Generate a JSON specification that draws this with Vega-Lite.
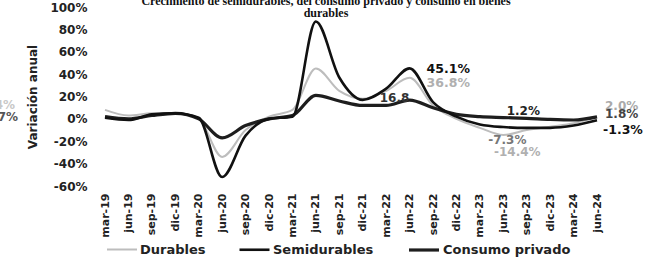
{
  "$schema": "https://vega.github.io/schema/vega-lite/v6.json",
  "width": 492,
  "height": 179,
  "autosize": "none",
  "padding": {"left": 105, "top": 7, "right": 53, "bottom": 75},
  "background": "white",
  "config": {"view": {"stroke": null}, "font": "DejaVu Sans"},
  "title": {
    "text": ["Crecimiento de semidurables, del consumo privado y consumo en bienes", "durables"],
    "font": "Liberation Serif",
    "fontSize": 12,
    "fontWeight": "bold",
    "lineHeight": 12,
    "color": "#111",
    "anchor": "middle",
    "dx": -25,
    "offset": -19
  },
  "datasets": {
    "series": [
      {"fecha": "mar-19", "serie": "Durables", "valor": 8},
      {"fecha": "jun-19", "serie": "Durables", "valor": 3},
      {"fecha": "sep-19", "serie": "Durables", "valor": 5},
      {"fecha": "dic-19", "serie": "Durables", "valor": 5},
      {"fecha": "mar-20", "serie": "Durables", "valor": 0},
      {"fecha": "jun-20", "serie": "Durables", "valor": -34},
      {"fecha": "sep-20", "serie": "Durables", "valor": -10},
      {"fecha": "dic-20", "serie": "Durables", "valor": 2},
      {"fecha": "mar-21", "serie": "Durables", "valor": 8},
      {"fecha": "jun-21", "serie": "Durables", "valor": 45},
      {"fecha": "sep-21", "serie": "Durables", "valor": 25},
      {"fecha": "dic-21", "serie": "Durables", "valor": 18},
      {"fecha": "mar-22", "serie": "Durables", "valor": 25},
      {"fecha": "jun-22", "serie": "Durables", "valor": 36.8},
      {"fecha": "sep-22", "serie": "Durables", "valor": 12},
      {"fecha": "dic-22", "serie": "Durables", "valor": 0},
      {"fecha": "mar-23", "serie": "Durables", "valor": -8},
      {"fecha": "jun-23", "serie": "Durables", "valor": -14.4},
      {"fecha": "sep-23", "serie": "Durables", "valor": -10},
      {"fecha": "dic-23", "serie": "Durables", "valor": -7},
      {"fecha": "mar-24", "serie": "Durables", "valor": -4},
      {"fecha": "jun-24", "serie": "Durables", "valor": 2.0},
      {"fecha": "mar-19", "serie": "Consumo privado", "valor": 2},
      {"fecha": "jun-19", "serie": "Consumo privado", "valor": 0},
      {"fecha": "sep-19", "serie": "Consumo privado", "valor": 3},
      {"fecha": "dic-19", "serie": "Consumo privado", "valor": 5},
      {"fecha": "mar-20", "serie": "Consumo privado", "valor": 0},
      {"fecha": "jun-20", "serie": "Consumo privado", "valor": -17},
      {"fecha": "sep-20", "serie": "Consumo privado", "valor": -6},
      {"fecha": "dic-20", "serie": "Consumo privado", "valor": 0},
      {"fecha": "mar-21", "serie": "Consumo privado", "valor": 3},
      {"fecha": "jun-21", "serie": "Consumo privado", "valor": 21},
      {"fecha": "sep-21", "serie": "Consumo privado", "valor": 16},
      {"fecha": "dic-21", "serie": "Consumo privado", "valor": 12},
      {"fecha": "mar-22", "serie": "Consumo privado", "valor": 12},
      {"fecha": "jun-22", "serie": "Consumo privado", "valor": 16.8},
      {"fecha": "sep-22", "serie": "Consumo privado", "valor": 10},
      {"fecha": "dic-22", "serie": "Consumo privado", "valor": 4},
      {"fecha": "mar-23", "serie": "Consumo privado", "valor": 2},
      {"fecha": "jun-23", "serie": "Consumo privado", "valor": 1.2},
      {"fecha": "sep-23", "serie": "Consumo privado", "valor": 0.5},
      {"fecha": "dic-23", "serie": "Consumo privado", "valor": -0.5},
      {"fecha": "mar-24", "serie": "Consumo privado", "valor": -1},
      {"fecha": "jun-24", "serie": "Consumo privado", "valor": 1.8},
      {"fecha": "mar-19", "serie": "Semidurables", "valor": 1},
      {"fecha": "jun-19", "serie": "Semidurables", "valor": -1},
      {"fecha": "sep-19", "serie": "Semidurables", "valor": 4},
      {"fecha": "dic-19", "serie": "Semidurables", "valor": 5},
      {"fecha": "mar-20", "serie": "Semidurables", "valor": 1},
      {"fecha": "jun-20", "serie": "Semidurables", "valor": -52},
      {"fecha": "sep-20", "serie": "Semidurables", "valor": -15},
      {"fecha": "dic-20", "serie": "Semidurables", "valor": 0},
      {"fecha": "mar-21", "serie": "Semidurables", "valor": 2},
      {"fecha": "jun-21", "serie": "Semidurables", "valor": 87},
      {"fecha": "sep-21", "serie": "Semidurables", "valor": 37},
      {"fecha": "dic-21", "serie": "Semidurables", "valor": 17},
      {"fecha": "mar-22", "serie": "Semidurables", "valor": 27},
      {"fecha": "jun-22", "serie": "Semidurables", "valor": 45.1},
      {"fecha": "sep-22", "serie": "Semidurables", "valor": 15},
      {"fecha": "dic-22", "serie": "Semidurables", "valor": 2},
      {"fecha": "mar-23", "serie": "Semidurables", "valor": -5},
      {"fecha": "jun-23", "serie": "Semidurables", "valor": -7.3},
      {"fecha": "sep-23", "serie": "Semidurables", "valor": -8},
      {"fecha": "dic-23", "serie": "Semidurables", "valor": -8},
      {"fecha": "mar-24", "serie": "Semidurables", "valor": -6},
      {"fecha": "jun-24", "serie": "Semidurables", "valor": -1.3}
    ],
    "etiquetas": [
      {"fecha": "jun-22", "valor": 45.1, "texto": "45.1%"},
      {"fecha": "jun-22", "valor": 36.8, "texto": "36.8%"},
      {"fecha": "jun-22", "valor": 16.8, "texto": "16.8"},
      {"fecha": "jun-23", "valor": 1.2, "texto": "1.2%"},
      {"fecha": "jun-23", "valor": -7.3, "texto": "-7.3%"},
      {"fecha": "jun-23", "valor": -14.4, "texto": "-14.4%"},
      {"fecha": "jun-24", "valor": 2.0, "texto": "2.0%"},
      {"fecha": "jun-24", "valor": 1.8, "texto": "1.8%"},
      {"fecha": "jun-24", "valor": -1.3, "texto": "-1.3%"},
      {"fecha": "mar-19", "valor": 2, "texto": "0.7%"},
      {"fecha": "mar-19", "valor": 8, "texto": "8.4%"}
    ]
  },
  "encoding": {
    "x": {
      "field": "fecha",
      "type": "ordinal",
      "sort": ["mar-19","jun-19","sep-19","dic-19","mar-20","jun-20","sep-20","dic-20","mar-21","jun-21","sep-21","dic-21","mar-22","jun-22","sep-22","dic-22","mar-23","jun-23","sep-23","dic-23","mar-24","jun-24"],
      "scale": {"type": "point", "padding": 0},
      "axis": {
        "title": null,
        "labelAngle": -90,
        "domain": false,
        "ticks": false,
        "labelPadding": 7,
        "labelFont": "DejaVu Sans",
        "labelFontSize": 11,
        "labelFontWeight": "bold",
        "labelColor": "#222"
      }
    },
    "y": {
      "field": "valor",
      "type": "quantitative",
      "scale": {"domain": [-60, 100], "nice": false},
      "axis": {
        "title": "Variación anual",
        "titleFont": "DejaVu Sans",
        "titleFontSize": 12,
        "titleFontWeight": "bold",
        "titleColor": "#222",
        "titlePadding": 10,
        "values": [-60, -40, -20, 0, 20, 40, 60, 80, 100],
        "labelExpr": "datum.value + '%'",
        "grid": false,
        "domain": false,
        "ticks": false,
        "labelPadding": 18,
        "labelFont": "DejaVu Sans",
        "labelFontSize": 12,
        "labelFontWeight": "bold",
        "labelColor": "#222"
      }
    }
  },
  "layer": [
    {
      "data": {"name": "series"},
      "mark": {"type": "line", "interpolate": "monotone"},
      "encoding": {
        "color": {
          "field": "serie",
          "type": "nominal",
          "scale": {"domain": ["Durables", "Semidurables", "Consumo privado"], "range": ["#bdbdbd", "#111111", "#1e1e1e"]},
          "legend": {
            "title": null,
            "orient": "none",
            "direction": "horizontal",
            "legendX": 1,
            "legendY": 226,
            "symbolType": "stroke",
            "symbolSize": 900,
            "symbolStrokeWidth": 2,
            "labelFont": "DejaVu Sans",
            "labelFontSize": 13,
            "labelFontWeight": "bold",
            "labelColor": "#222",
            "labelOffset": 2,
            "columnPadding": 28
          }
        },
        "strokeWidth": {
          "field": "serie",
          "type": "nominal",
          "scale": {"domain": ["Durables", "Semidurables", "Consumo privado"], "range": [2, 3.2, 2]},
          "legend": null
        },
        "order": {"field": "serie"}
      }
    },
    {
      "data": {"name": "etiquetas"},
      "transform": [{"filter": "datum.texto == '45.1%'"}],
      "mark": {"type": "text", "align": "left", "dx": 17, "dy": 1, "fontSize": 12.5, "fontWeight": "bold", "color": "#111"},
      "encoding": {"text": {"field": "texto"}}
    },
    {
      "data": {"name": "etiquetas"},
      "transform": [{"filter": "datum.texto == '36.8%'"}],
      "mark": {"type": "text", "align": "left", "dx": 17, "dy": 5, "fontSize": 12.5, "fontWeight": "bold", "color": "#b0b0b0"},
      "encoding": {"text": {"field": "texto"}}
    },
    {
      "data": {"name": "etiquetas"},
      "transform": [{"filter": "datum.texto == '16.8'"}],
      "mark": {"type": "text", "align": "center", "dx": -15, "dy": -2, "fontSize": 12, "fontWeight": "bold", "color": "#333"},
      "encoding": {"text": {"field": "texto"}}
    },
    {
      "data": {"name": "etiquetas"},
      "transform": [{"filter": "datum.texto == '1.2%'"}],
      "mark": {"type": "text", "align": "center", "dx": 20, "dy": -7, "fontSize": 12, "fontWeight": "bold", "color": "#222"},
      "encoding": {"text": {"field": "texto"}}
    },
    {
      "data": {"name": "etiquetas"},
      "transform": [{"filter": "datum.texto == '-7.3%'"}],
      "mark": {"type": "text", "align": "center", "dx": 4, "dy": 13, "fontSize": 12, "fontWeight": "bold", "color": "#777"},
      "encoding": {"text": {"field": "texto"}}
    },
    {
      "data": {"name": "etiquetas"},
      "transform": [{"filter": "datum.texto == '-14.4%'"}],
      "mark": {"type": "text", "align": "center", "dx": 14, "dy": 17, "fontSize": 12, "fontWeight": "bold", "color": "#b0b0b0"},
      "encoding": {"text": {"field": "texto"}}
    },
    {
      "data": {"name": "etiquetas"},
      "transform": [{"filter": "datum.texto == '2.0%'"}],
      "mark": {"type": "text", "align": "left", "dx": 8, "dy": -11, "fontSize": 12, "fontWeight": "bold", "color": "#aaaaaa"},
      "encoding": {"text": {"field": "texto"}}
    },
    {
      "data": {"name": "etiquetas"},
      "transform": [{"filter": "datum.texto == '1.8%'"}],
      "mark": {"type": "text", "align": "left", "dx": 8, "dy": -3, "fontSize": 12, "fontWeight": "bold", "color": "#444"},
      "encoding": {"text": {"field": "texto"}}
    },
    {
      "data": {"name": "etiquetas"},
      "transform": [{"filter": "datum.texto == '-1.3%'"}],
      "mark": {"type": "text", "align": "left", "dx": 6, "dy": 10, "fontSize": 12.5, "fontWeight": "bold", "color": "#111"},
      "encoding": {"text": {"field": "texto"}}
    },
    {
      "data": {"name": "etiquetas"},
      "transform": [{"filter": "datum.texto == '0.7%'"}],
      "mark": {"type": "text", "align": "right", "dx": -87, "dy": 0, "fontSize": 12, "fontWeight": "bold", "color": "#555"},
      "encoding": {"text": {"field": "texto"}}
    },
    {
      "data": {"name": "etiquetas"},
      "transform": [{"filter": "datum.texto == '8.4%'"}],
      "mark": {"type": "text", "align": "right", "dx": -90, "dy": -5, "fontSize": 12, "fontWeight": "bold", "color": "#c8c8c8"},
      "encoding": {"text": {"field": "texto"}}
    }
  ]
}
